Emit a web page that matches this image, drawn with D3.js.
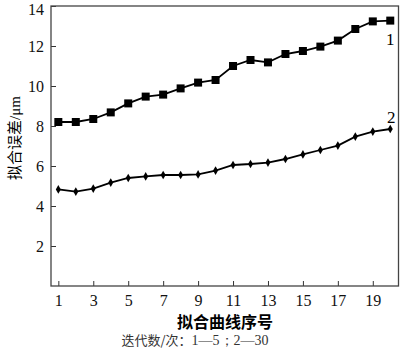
<!DOCTYPE html>
<html>
<head>
<meta charset="utf-8">
<script src="https://cdn.jsdelivr.net/npm/d3@7"></script>
<style>
  body { margin: 0; background: #fff; }
  svg { display: block; }
</style>
</head>
<body>
<div id="chart"></div>
<script>
// Data
const curveIds = d3.range(1, 21);
const series1 = [8.2, 8.2, 8.35, 8.68, 9.13, 9.47, 9.57, 9.88, 10.17, 10.3,
                 11.0, 11.3, 11.18, 11.6, 11.75, 11.97, 12.27, 12.85, 13.23, 13.27];
const series2 = [4.83, 4.72, 4.87, 5.17, 5.4, 5.48, 5.55, 5.55, 5.58, 5.77,
                 6.05, 6.1, 6.17, 6.35, 6.58, 6.8, 7.02, 7.47, 7.72, 7.85];
const xTicks = [1, 3, 5, 7, 9, 11, 13, 15, 17, 19];
const yTicks = [2, 4, 6, 8, 10, 12, 14];
const seriesLabels = ["1", "2"];

const width = 400;
const height = 350;
const margin = { top: 6, right: 1, bottom: 64, left: 51 };

const svg = d3.select("#chart")
    .append("svg")
    .attr("width", width)
    .attr("height", height);

// Scales
const x = d3.scaleLinear()
    .domain([0.58, 20.5])
    .range([margin.left, width - margin.right]);

const y = d3.scaleLinear()
    .domain([0, 14])
    .range([height - margin.bottom, margin.top]);

const serif = "'Liberation Serif', 'Times New Roman', serif";
const cjk = "'Noto Sans CJK SC', sans-serif";

// Axes (ticks pointing inward)
const xAxis = svg.append("g")
    .attr("transform", `translate(0,${height - margin.bottom})`)
    .call(d3.axisBottom(x).tickValues(xTicks).tickSizeInner(-5).tickSizeOuter(0).tickPadding(9));

const yAxis = svg.append("g")
    .attr("transform", `translate(${margin.left},0)`)
    .call(d3.axisLeft(y).tickValues(yTicks).tickSizeInner(-5).tickSizeOuter(0).tickPadding(7));

[xAxis, yAxis].forEach(g => {
    g.select(".domain").remove();
    g.selectAll("line").attr("stroke", "#333");
    g.selectAll("text")
        .style("font-family", serif)
        .style("font-size", "16px")
        .attr("fill", "#111");
});
// top label sits against the edge, nudge it down so it stays visible
yAxis.selectAll("text").attr("dy", d => d === 14 ? "0.5em" : "0.34em");

// Frame
svg.append("rect")
    .attr("x", margin.left)
    .attr("y", margin.top)
    .attr("width", width - margin.left - margin.right - 0.5)
    .attr("height", height - margin.top - margin.bottom)
    .attr("fill", "none")
    .attr("stroke", "#444")
    .attr("stroke-width", 1.3);

// Lines
const line = d3.line()
    .x((d, i) => x(curveIds[i]))
    .y(d => y(d));

[series1, series2].forEach(s => {
    svg.append("path")
        .datum(s)
        .attr("fill", "none")
        .attr("stroke", "#000")
        .attr("stroke-width", 1.8)
        .attr("d", line);
});

// Square markers
svg.selectAll(".sq")
    .data(series1)
    .enter()
    .append("rect")
    .attr("class", "sq")
    .attr("x", (d, i) => x(curveIds[i]) - 4)
    .attr("y", d => y(d) - 4)
    .attr("width", 8)
    .attr("height", 8)
    .attr("fill", "#000");

// Diamond markers
const diamond = d3.symbol().type(d3.symbolDiamond).size(22);
svg.selectAll(".dm")
    .data(series2)
    .enter()
    .append("path")
    .attr("class", "dm")
    .attr("transform", (d, i) => `translate(${x(curveIds[i])},${y(d)})`)
    .attr("d", diamond)
    .attr("fill", "#000");

// Series labels
svg.append("text")
    .attr("x", x(20))
    .attr("y", y(series1[19]) + 24)
    .attr("text-anchor", "middle")
    .style("font-family", serif)
    .style("font-size", "17px")
    .text(seriesLabels[0]);

svg.append("text")
    .attr("x", x(20) + 1)
    .attr("y", y(series2[19]) - 6)
    .attr("text-anchor", "middle")
    .style("font-family", serif)
    .style("font-size", "17px")
    .text(seriesLabels[1]);

// Axis titles
svg.append("text")
    .attr("x", 225)
    .attr("y", 328)
    .attr("text-anchor", "middle")
    .style("font-family", cjk)
    .style("font-weight", "bold")
    .style("font-size", "16px")
    .text("拟合曲线序号");

svg.append("text")
    .attr("transform", "rotate(-90)")
    .attr("x", -138)
    .attr("y", 20)
    .attr("text-anchor", "middle")
    .style("font-size", "15px")
    .style("font-family", cjk)
    .html(`拟合误差<tspan style="font-family:${serif}">/μm</tspan>`);

// Caption
svg.append("text")
    .attr("x", 195)
    .attr("y", 345)
    .attr("text-anchor", "middle")
    .style("font-family", cjk)
    .style("font-size", "13px")
    .attr("fill", "#333")
    .html(`迭代数/次：<tspan style="font-family:${serif};font-size:14px">1—5；2—30</tspan>`);
</script>
</body>
</html>
